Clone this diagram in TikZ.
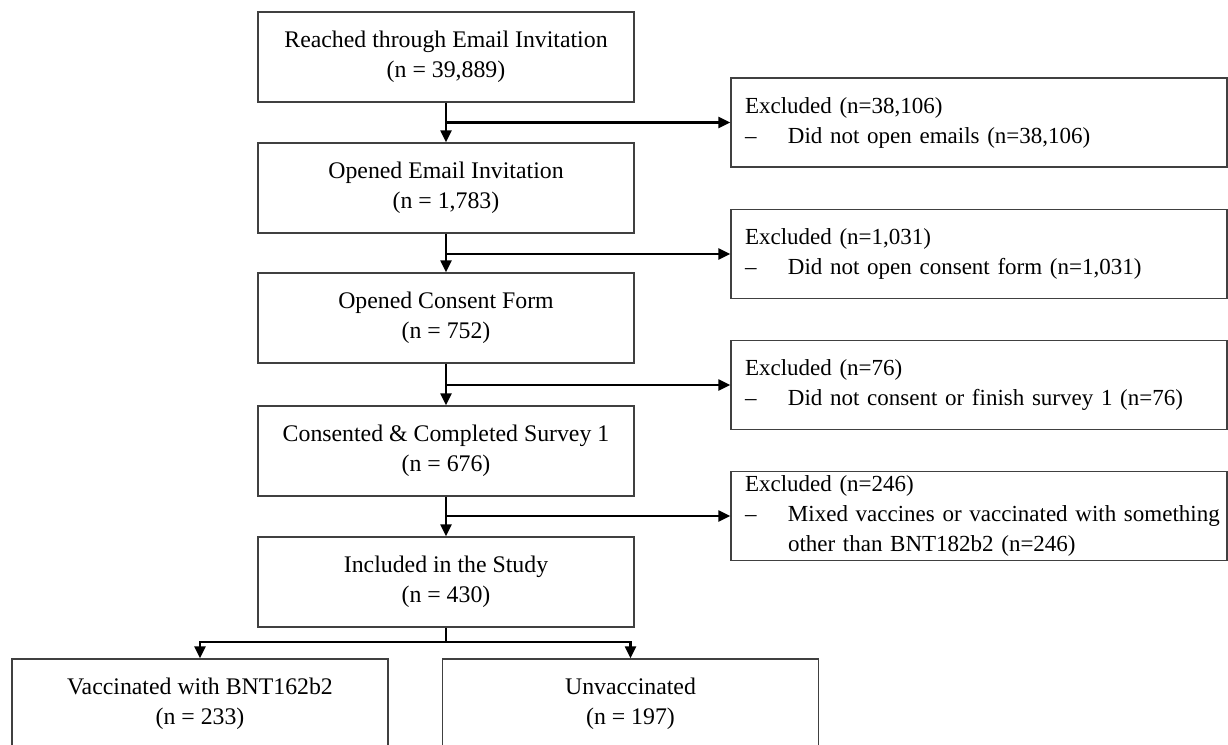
\documentclass[tikz,border=0pt]{standalone}
\usepackage{fontspec}
\setmainfont{Liberation Serif}
\usetikzlibrary{arrows.meta}
\begin{document}
\begin{tikzpicture}[x=1pt,y=-1pt,
  mainbox/.style={draw=black!75, line width=1.3pt, minimum width=376pt, minimum height=90pt,
    inner sep=0pt, align=center, font=\fontsize{23.8}{30}\selectfont},
  exbox/.style={draw=black!75, line width=1.3pt, text width=468pt, inner xsep=14pt, inner ysep=0pt,
    minimum height=89pt, align=left, font=\fontsize{23}{30}\selectfont},
  conn/.style={line width=2.2pt, black},
  arr/.style={conn, -{Triangle[length=12pt,width=11pt]}}]
\useasboundingbox (0,0) rectangle (1228,744);
\newcommand{\dashitem}{\makebox[43pt][l]{--}}
% main column
\node[mainbox] (b1) at (446,57) {Reached through Email Invitation\\(n = 39,889)};
\node[mainbox] (b2) at (446,188) {Opened Email Invitation\\(n = 1,783)};
\node[mainbox] (b3) at (446,318) {Opened Consent Form\\(n = 752)};
\node[mainbox] (b4) at (446,451) {Consented \& Completed Survey 1\\(n = 676)};
\node[mainbox] (b5) at (446,582) {Included in the Study\\(n = 430)};
% exclusion boxes
\node[exbox] (r1) at (979,122.5) {Excluded (n=38,106)\\\dashitem Did not open emails (n=38,106)};
\node[exbox] (r2) at (979,254) {Excluded (n=1,031)\\\dashitem Did not open consent form (n=1,031)};
\node[exbox] (r3) at (979,385) {Excluded (n=76)\\\dashitem Did not consent or finish survey 1 (n=76)};
\node[exbox] (r4) at (979,516) {Excluded (n=246)\\\mbox{\dashitem Mixed vaccines or vaccinated with something}\\\hspace*{43pt}other than BNT182b2 (n=246)};
% bottom boxes
\node[mainbox] (bl) at (200,704) {Vaccinated with BNT162b2\\(n = 233)};
\node[mainbox] (br) at (630.5,704) {Unvaccinated\\(n = 197)};
% connectors
\draw[arr] (b1.south) -- (b2.north);
\draw[arr] (b2.south) -- (b3.north);
\draw[arr] (b3.south) -- (b4.north);
\draw[arr] (b4.south) -- (b5.north);
\draw[arr] (b1.south |- r1.west) -- (r1.west);
\draw[arr] (b2.south |- r2.west) -- (r2.west);
\draw[arr] (b3.south |- r3.west) -- (r3.west);
\draw[arr] (b4.south |- r4.west) -- (r4.west);
\coordinate (split) at (446,642);
\draw[conn] (b5.south) -- (split);
\draw[arr] (split) -| (bl.north);
\draw[arr] (split) -| (br.north);
\end{tikzpicture}
\end{document}
